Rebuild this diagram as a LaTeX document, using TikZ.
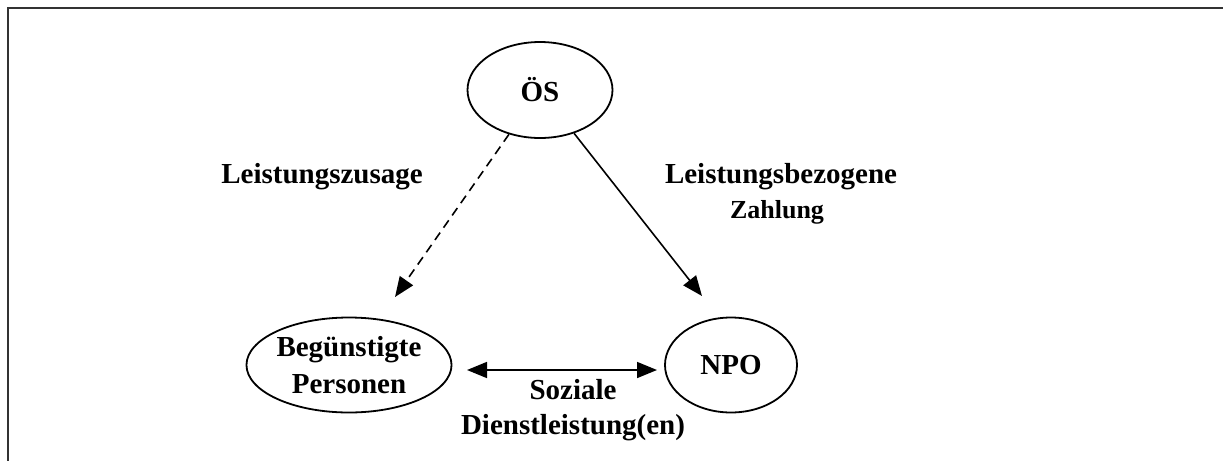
\documentclass[tikz,border=0pt]{standalone}
\usepackage{fontspec}
\setmainfont{Liberation Serif}
\usetikzlibrary{shapes.geometric,arrows.meta}
\begin{document}
\begin{tikzpicture}[x=1pt,y=-1pt,
  ell/.style={draw,line width=1.8pt,ellipse,inner sep=0pt,align=center,
    font=\fontsize{29}{37}\selectfont\bfseries},
  lbl/.style={align=center,font=\fontsize{29}{35}\selectfont\bfseries},
  conn/.style={line width=1.6pt,-{Triangle[length=20pt,width=16pt]}},
  frame/.style={line width=2.5pt,draw=black!80}]
\useasboundingbox (0,0) rectangle (1223,461);
\draw[frame] (1223,8) -- (8,8) -- (8,461);
\node[ell,minimum width=145pt,minimum height=96pt] (os) at (540,90) {ÖS};
\node[ell,minimum width=202pt,minimum height=95pt] (bp) at (349,365) {Begünstigte\\Personen};
\node[ell,minimum width=132pt,minimum height=95pt] (npo) at (731,365) {NPO};
\coordinate (t1) at (395,297);
\coordinate (t2) at (702,296);
\coordinate (sl) at (467,370);
\coordinate (sr) at (657,370);
\draw[conn,dash pattern=on 9pt off 6pt] (os) -- (t1);
\draw[conn] (os) -- (t2);
\draw[line width=1.6pt,{Triangle[length=20pt,width=16pt]}-{Triangle[length=20pt,width=16pt]}] (sl) -- (sr);
\node[lbl] (lz) at (322,177) {Leistungszusage};
\node[lbl] (lb) at (781,177) {Leistungsbezogene};
\node[lbl,font=\fontsize{26}{30}\selectfont\bfseries] (lb2) at (777,212) {Zahlung};
\node[lbl] (sd) at (573,410) {Soziale\\Dienstleistung(en)};
\end{tikzpicture}
\end{document}
